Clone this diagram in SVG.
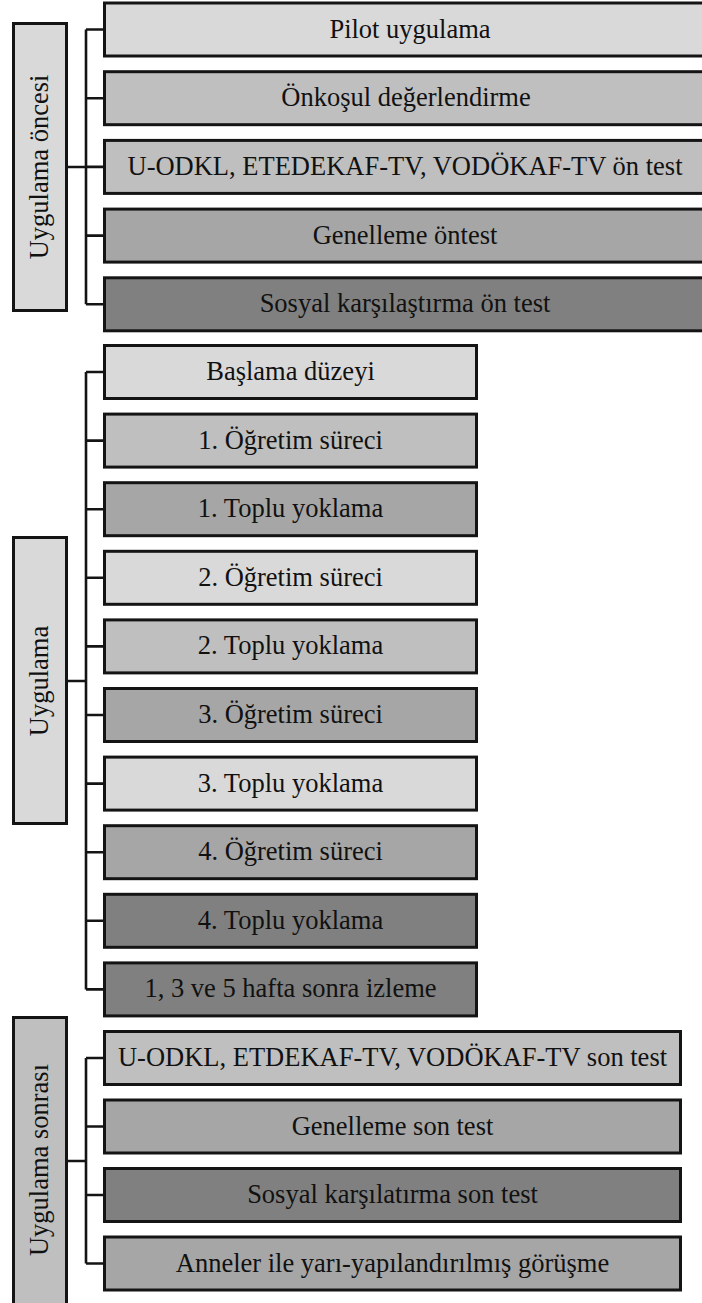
<svg xmlns="http://www.w3.org/2000/svg" width="702" height="1303" viewBox="0 0 702 1303">
<style>
.b{stroke:#141414;stroke-width:3}
.c1{fill:#d9d9d9}.c2{fill:#bfbfbf}.c3{fill:#a6a6a6}.c4{fill:#808080}
text{font-family:"Liberation Serif","Times New Roman",serif;font-size:26.5px;fill:#111;text-anchor:middle}
.ln{stroke:#141414;stroke-width:2.6;fill:none}
</style>
<rect width="702" height="1303" fill="#fff"/>
<g id="connectors">
<path class="ln" d="M68,167H86M86,29.5V304.3M86,29.5H104M86,98.2H104M86,166.9H104M86,235.6H104M86,304.3H104"/>
<path class="ln" d="M68,681H86M86,372V989.4M86,372H104M86,440.6H104M86,509.2H104M86,577.8H104M86,646.4H104M86,715H104M86,783.6H104M86,852.2H104M86,920.8H104M86,989.4H104"/>
<path class="ln" d="M68,1161H86M86,1058V1263.5M86,1058H104M86,1126.5H104M86,1195H104M86,1263.5H104"/>
</g>
<g id="label-oncesi"><rect class="b c1" x="13.5" y="23.5" width="53" height="287"/><text transform="translate(48,167) rotate(-90)">Uygulama öncesi</text></g>
<g id="label-uygulama"><rect class="b c1" x="13.5" y="537.5" width="53" height="286"/><text transform="translate(48,681) rotate(-90)">Uygulama</text></g>
<g id="label-sonrasi"><rect class="b c2" x="13.5" y="1017.5" width="53" height="300"/><text transform="translate(48,1160) rotate(-90)">Uygulama sonrası</text></g>

<g id="n1"><rect class="b c1" x="104.5" y="3" width="610" height="53"/><text x="410" y="37.5">Pilot uygulama</text></g>
<g id="n2"><rect class="b c2" x="104.5" y="71.7" width="610" height="53"/><text x="406" y="106.2">Önkoşul değerlendirme</text></g>
<g id="n3"><rect class="b c2" x="104.5" y="140.4" width="610" height="53"/><text x="405" y="174.9">U-ODKL, ETEDEKAF-TV, VODÖKAF-TV ön test</text></g>
<g id="n4"><rect class="b c3" x="104.5" y="209.1" width="610" height="53"/><text x="405" y="243.6">Genelleme öntest</text></g>
<g id="n5"><rect class="b c4" x="104.5" y="277.8" width="610" height="53"/><text x="405" y="312.3">Sosyal karşılaştırma ön test</text></g>

<g id="m1"><rect class="b c1" x="104.5" y="345.5" width="372" height="53"/><text x="290.5" y="380">Başlama düzeyi</text></g>
<g id="m2"><rect class="b c2" x="104.5" y="414.1" width="372" height="53"/><text x="290.5" y="448.6">1. Öğretim süreci</text></g>
<g id="m3"><rect class="b c3" x="104.5" y="482.7" width="372" height="53"/><text x="290.5" y="517.2">1. Toplu yoklama</text></g>
<g id="m4"><rect class="b c1" x="104.5" y="551.3" width="372" height="53"/><text x="290.5" y="585.8">2. Öğretim süreci</text></g>
<g id="m5"><rect class="b c2" x="104.5" y="619.9" width="372" height="53"/><text x="290.5" y="654.4">2. Toplu yoklama</text></g>
<g id="m6"><rect class="b c3" x="104.5" y="688.5" width="372" height="53"/><text x="290.5" y="723">3. Öğretim süreci</text></g>
<g id="m7"><rect class="b c1" x="104.5" y="757.1" width="372" height="53"/><text x="290.5" y="791.6">3. Toplu yoklama</text></g>
<g id="m8"><rect class="b c3" x="104.5" y="825.7" width="372" height="53"/><text x="290.5" y="860.2">4. Öğretim süreci</text></g>
<g id="m9"><rect class="b c4" x="104.5" y="894.3" width="372" height="53"/><text x="290.5" y="928.8">4. Toplu yoklama</text></g>
<g id="m10"><rect class="b c4" x="104.5" y="962.9" width="372" height="53"/><text x="290.5" y="997.4">1, 3 ve 5 hafta sonra izleme</text></g>

<g id="s1"><rect class="b c2" x="104.5" y="1031.5" width="576" height="53"/><text x="392.5" y="1066">U-ODKL, ETDEKAF-TV, VODÖKAF-TV son test</text></g>
<g id="s2"><rect class="b c3" x="104.5" y="1100" width="576" height="53"/><text x="392.5" y="1134.5">Genelleme son test</text></g>
<g id="s3"><rect class="b c4" x="104.5" y="1168.5" width="576" height="53"/><text x="392.5" y="1203">Sosyal karşılatırma son test</text></g>
<g id="s4"><rect class="b c3" x="104.5" y="1237" width="576" height="53"/><text x="392.5" y="1271.5">Anneler ile yarı-yapılandırılmış görüşme</text></g>
</svg>
